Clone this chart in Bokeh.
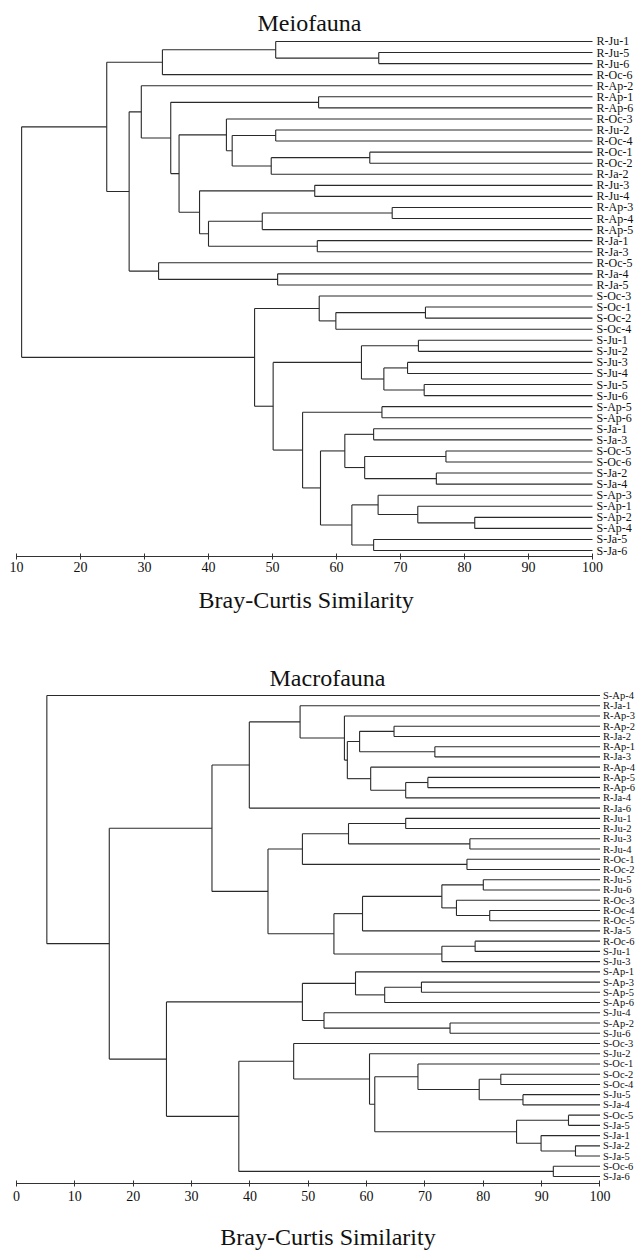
import numpy as np
from bokeh.plotting import figure
from bokeh.layouts import column
from bokeh.models import Range1d, ColumnDataSource, FixedTicker, Title
from bokeh.core.properties import value
from bokeh.embed import file_html
from bokeh.resources import INLINE

FONT = "Liberation Serif"

# ---------------- Meiofauna ----------------
meio_leaves = ["R-Ju-1", "R-Ju-5", "R-Ju-6", "R-Oc-6", "R-Ap-2", "R-Ap-1", "R-Ap-6",
               "R-Oc-3", "R-Ju-2", "R-Oc-4", "R-Oc-1", "R-Oc-2", "R-Ja-2", "R-Ju-3",
               "R-Ju-4", "R-Ap-3", "R-Ap-4", "R-Ap-5", "R-Ja-1", "R-Ja-3", "R-Oc-5",
               "R-Ja-4", "R-Ja-5", "S-Oc-3", "S-Oc-1", "S-Oc-2", "S-Oc-4", "S-Ju-1",
               "S-Ju-2", "S-Ju-3", "S-Ju-4", "S-Ju-5", "S-Ju-6", "S-Ap-5", "S-Ap-6",
               "S-Ja-1", "S-Ja-3", "S-Oc-5", "S-Oc-6", "S-Ja-2", "S-Ja-4", "S-Ap-3",
               "S-Ap-1", "S-Ap-2", "S-Ap-4", "S-Ja-5", "S-Ja-6"]
# (child a, child b, similarity); ints = leaf index, "mK" = K-th merge
meio_merges = [
    (1, 2, 66.6), (0, "m0", 50.5), ("m1", 3, 32.8), (5, 6, 57.2), (8, 9, 50.5),
    (10, 11, 65.2), ("m5", 12, 49.8), ("m4", "m6", 43.7), (7, "m7", 42.8),
    (13, 14, 56.6), (15, 16, 68.7), ("m10", 17, 48.4), (18, 19, 57.0),
    ("m11", "m12", 40.0), ("m9", "m13", 38.6), ("m8", "m14", 35.4),
    ("m3", "m15", 34.1), (4, "m16", 29.5), (21, 22, 50.8), (20, "m18", 32.2),
    ("m17", "m19", 27.6), ("m2", "m20", 24.1),
    (24, 25, 73.9), ("m22", 26, 59.9), (23, "m23", 57.3), (27, 28, 72.8),
    (29, 30, 71.1), (31, 32, 73.7), ("m26", "m27", 67.4), ("m25", "m28", 63.9),
    (33, 34, 67.1), (35, 36, 65.8), (37, 38, 77.1), (39, 40, 75.6),
    ("m32", "m33", 64.4), ("m31", "m34", 61.3), (43, 44, 81.6), (42, "m36", 72.7),
    (41, "m37", 66.5), (45, 46, 65.8), ("m38", "m39", 62.4), ("m35", "m40", 57.5),
    ("m30", "m41", 54.7), ("m29", "m42", 50.1), ("m24", "m43", 47.2),
    ("m21", "m44", 10.8),
]
meio_ticks = [10, 20, 30, 40, 50, 60, 70, 80, 90, 100]

# ---------------- Macrofauna ----------------
macro_leaves = ["S-Ap-4", "R-Ja-1", "R-Ap-3", "R-Ap-2", "R-Ja-2", "R-Ap-1", "R-Ja-3",
                "R-Ap-4", "R-Ap-5", "R-Ap-6", "R-Ja-4", "R-Ja-6", "R-Ju-1", "R-Ju-2",
                "R-Ju-3", "R-Ju-4", "R-Oc-1", "R-Oc-2", "R-Ju-5", "R-Ju-6", "R-Oc-3",
                "R-Oc-4", "R-Oc-5", "R-Ja-5", "R-Oc-6", "S-Ju-1", "S-Ju-3", "S-Ap-1",
                "S-Ap-3", "S-Ap-5", "S-Ap-6", "S-Ju-4", "S-Ap-2", "S-Ju-6", "S-Oc-3",
                "S-Ju-2", "S-Oc-1", "S-Oc-2", "S-Oc-4", "S-Ju-5", "S-Ja-4", "S-Oc-5",
                "S-Ja-5", "S-Ja-1", "S-Ja-2", "S-Ja-5", "S-Oc-6", "S-Ja-6"]
macro_merges = [
    (3, 4, 64.7), (5, 6, 71.7), ("m0", "m1", 58.8), (8, 9, 70.5), ("m3", 10, 66.7),
    (7, "m4", 60.7), ("m2", "m5", 56.7), (2, "m6", 56.2), (1, "m7", 48.6),
    ("m8", 11, 39.9), (12, 13, 66.7), (14, 15, 77.7), ("m10", "m11", 56.9),
    (16, 17, 77.2), ("m12", "m13", 49.0), (18, 19, 80.0), (21, 22, 81.1),
    (20, "m16", 75.4), ("m15", "m17", 72.9), ("m18", 23, 59.3), (24, 25, 78.6),
    ("m20", 26, 72.9), ("m19", "m21", 54.4), ("m14", "m22", 43.1),
    ("m9", "m23", 33.5),
    (28, 29, 69.4), ("m25", 30, 63.1), (27, "m26", 58.1), (32, 33, 74.3),
    (31, "m28", 52.7), ("m27", "m29", 49.0), (37, 38, 83.0), (39, 40, 86.8),
    ("m31", "m32", 79.3), (36, "m33", 68.8), (41, 42, 94.6), (44, 45, 95.8),
    (43, "m36", 89.9), ("m35", "m37", 85.7), ("m34", "m38", 61.4),
    (35, "m39", 60.5), (34, "m40", 47.5), (46, 47, 92.0), ("m41", "m42", 38.1),
    ("m30", "m43", 25.7), ("m24", "m44", 15.9), (0, "m45", 5.2),
]
macro_ticks = [0, 10, 20, 30, 40, 50, 60, 70, 80, 90, 100]

XTITLE = "Bray-Curtis Similarity"


def dendro_segments(merges, leaf_x):
    pos = {}
    x0, y0, x1, y1 = [], [], [], []

    def get(c):
        if isinstance(c, int):
            return leaf_x, float(c)
        return pos[c]

    for k, (a, b, h) in enumerate(merges):
        xa, ya = get(a)
        xb, yb = get(b)
        x0 += [xa, xb, h]
        y0 += [ya, yb, ya]
        x1 += [h, h, h]
        y1 += [ya, yb, yb]
        pos["m%d" % k] = (h, (ya + yb) / 2.0)
    return dict(x0=x0, y0=y0, x1=x1, y1=y1)


def make_panel(title, leaves, merges, ticks, x_end, frame_w, frame_h,
               pad_top, pad_bot, border_left, border_top, title_offset,
               title_standoff, label_size, label_offset, tick_standoff):
    n = len(leaves)
    p = figure(frame_width=frame_w, frame_height=frame_h,
               x_range=Range1d(ticks[0], x_end),
               y_range=Range1d(n - 1 + pad_bot, -pad_top),
               y_axis_location=None, toolbar_location=None,
               output_backend="svg", min_border_left=border_left,
               min_border_right=0, min_border_top=border_top,
               min_border_bottom=0)
    p.title.text = title
    p.title.align = "left"
    p.title.offset = title_offset
    p.title.standoff = title_standoff
    p.title.text_font = FONT
    p.title.text_font_style = "normal"
    p.title.text_font_size = "24px"
    p.title.text_color = "#111111"

    seg = ColumnDataSource(dendro_segments(merges, ticks[-1]))
    p.segment(x0="x0", y0="y0", x1="x1", y1="y1", source=seg,
              line_color="#2a2a2a", line_width=1.1)

    lab = ColumnDataSource(dict(x=np.full(n, float(ticks[-1])),
                                y=np.arange(n, dtype=float), t=leaves))
    p.text(x="x", y="y", text="t", source=lab, x_offset=label_offset,
           text_baseline="middle", text_align="left",
           text_font=value(FONT), text_font_size=label_size,
           text_color="#111111")

    ax = p.xaxis[0]
    ax.ticker = FixedTicker(ticks=ticks)
    ax.bounds = (ticks[0], ticks[-1])
    ax.axis_line_color = "#333333"
    ax.axis_line_width = 1
    ax.major_tick_in = 3
    ax.major_tick_out = 3
    ax.major_tick_line_color = "#333333"
    ax.minor_tick_in = 0
    ax.minor_tick_out = 0
    ax.major_label_standoff = tick_standoff
    ax.major_label_text_font = FONT
    ax.major_label_text_font_size = "14px"
    ax.major_label_text_color = "#111111"

    p.grid.visible = False
    p.outline_line_color = None
    p.background_fill_color = "white"
    p.border_fill_color = "white"
    return p


# top chart: axis title as a Title below (left aligned with offset)
p1 = make_panel("Meiofauna", meio_leaves, meio_merges, meio_ticks,
                x_end=106.875, frame_w=620, frame_h=521, pad_top=0.54, pad_bot=0.54,
                border_left=16, border_top=35, title_offset=241,
                title_standoff=0, label_size="12px", label_offset=4,
                tick_standoff=2)
p1.add_layout(Title(text=XTITLE, align="left", offset=182, text_font=FONT,
                    text_font_style="normal", text_font_size="24px",
                    text_color="#111111", standoff=20), "below")

# bottom chart: axis title as the axis label
p2 = make_panel("Macrofauna", macro_leaves, macro_merges, macro_ticks,
                x_end=106.77, frame_w=623, frame_h=493, pad_top=0.49, pad_bot=0.68,
                border_left=13, border_top=68, title_offset=253,
                title_standoff=0, label_size="10.5px", label_offset=3,
                tick_standoff=4)
ax2 = p2.xaxis[0]
ax2.axis_label = XTITLE
ax2.axis_label_standoff = 20
ax2.axis_label_text_font = FONT
ax2.axis_label_text_font_style = "normal"
ax2.axis_label_text_font_size = "24px"
ax2.axis_label_text_color = "#111111"

layout = column(p1, p2, spacing=0)
open("out.html", "w").write(file_html(layout, INLINE))
